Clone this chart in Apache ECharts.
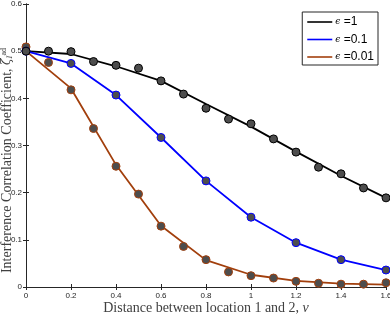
<!DOCTYPE html>
<html><head><meta charset="utf-8">
<script src="https://cdn.jsdelivr.net/npm/echarts@6/dist/echarts.min.js"></script>
<style>html,body{margin:0;padding:0;background:#fff}#c{width:390px;height:316px}</style>
</head><body><div id="c"></div>
<script>
// Data
const xLine = [0, 0.2, 0.4, 0.6, 0.8, 1.0, 1.2, 1.4, 1.6];
const xPts = [0, 0.1, 0.2, 0.3, 0.4, 0.5, 0.6, 0.7, 0.8, 0.9, 1.0, 1.1, 1.2, 1.3, 1.4, 1.5, 1.6];
const legendNames = ['ϵ =1', 'ϵ =0.1', 'ϵ =0.01'];
// eps = 1
const line1 = [0.5, 0.494, 0.468, 0.437, 0.388, 0.340, 0.287, 0.236, 0.189];
const pts1 = [0.5, 0.5, 0.499, 0.478, 0.470, 0.464, 0.437, 0.409, 0.379, 0.356, 0.346, 0.314, 0.286, 0.254, 0.240, 0.210, 0.189];
// eps = 0.1
const line2 = [0.5, 0.474, 0.407, 0.317, 0.225, 0.148, 0.094, 0.058, 0.036];
const pts2 = [0.5, 0.474, 0.407, 0.317, 0.225, 0.148, 0.094, 0.058, 0.036];
// eps = 0.01
const line3 = [0.5, 0.421, 0.259, 0.130, 0.057, 0.026, 0.013, 0.007, 0.005];
const pts3 = [0.509, 0.476, 0.418, 0.336, 0.256, 0.197, 0.129, 0.086, 0.058, 0.032, 0.024, 0.019, 0.012, 0.008, 0.006, 0.006, 0.009];
const xTicks = ['0', '0.2', '0.4', '0.6', '0.8', '1', '1.2', '1.4', '1.6'];

const colors = ['#000000', '#0000ff', '#a23f0c'];
const axisColor = '#262626';

function zip(xs, ys) { return xs.map((x, i) => [x, ys[i]]); }

const chart = echarts.init(document.getElementById('c'), null, {renderer: 'canvas'});
const lineSets = [line1, line2, line3];
const ptSets = [[xPts, pts1], [xLine, pts2], [xPts, pts3]];
const series = [];
lineSets.forEach((ys, i) => {
  series.push({
    name: legendNames[i], type: 'line', data: zip(xLine, ys), showSymbol: false, symbol: 'none',
    lineStyle: {color: colors[i], width: 1.8}, itemStyle: {color: colors[i]}, z: 2, animation: false
  });
});
[2, 1, 0].forEach((i) => {
  series.push({
    name: 'pts' + i, type: 'scatter', data: zip(ptSets[i][0], ptSets[i][1]), symbol: 'circle', symbolSize: 8,
    itemStyle: {color: '#4d4d4d', borderColor: colors[i], borderWidth: 1, opacity: 1}, z: 3 + (2 - i), animation: false
  });
});

const baseX = {
  type: 'value', min: 0, max: 1.6, interval: 0.2,
  axisLine: {show: true, lineStyle: {color: axisColor, width: 1}},
  axisTick: {show: true, inside: true, length: 3, lineStyle: {color: axisColor}},
  splitLine: {show: false}
};
const baseY = {
  type: 'value', min: 0, max: 0.6, interval: 0.1,
  axisLine: {show: true, lineStyle: {color: axisColor, width: 1}},
  axisTick: {show: true, inside: true, length: 3, lineStyle: {color: axisColor}},
  splitLine: {show: false}
};

chart.setOption({
  animation: false,
  grid: {left: 26, right: 4, top: 4, bottom: 29, containLabel: false, outerBoundsMode: 'none'},
  legend: {
    data: legendNames, orient: 'vertical', right: 12, top: 12,
    itemWidth: 25, itemHeight: 12, itemGap: 5.5,
    icon: 'path://M0,5.2 L25,5.2 L25,6.8 L0,6.8 Z',
    backgroundColor: '#fff', borderColor: axisColor, borderWidth: 1,
    padding: [4, 4, 2, 5],
    textStyle: {fontFamily: 'Liberation Sans', fontSize: 12, lineHeight: 12, color: '#000', padding: [0, 0, 0, -2],
      rich: {e: {fontFamily: 'DejaVu Serif', fontStyle: 'italic', fontSize: 9, lineHeight: 12, color: '#000'}, t: {fontFamily: 'Liberation Sans', fontSize: 12, lineHeight: 12, color: '#000'}}},
    formatter: (n) => '{e|ϵ}{t|' + n.slice(1) + '}'
  },
  xAxis: [
    Object.assign({}, baseX, {
      position: 'bottom',
      axisLabel: {color: axisColor, fontSize: 8, fontFamily: 'Liberation Sans', margin: 5,
        formatter: (v) => xTicks[Math.round(v / 0.2)]},
      name: 'Distance between location 1 and 2, {i|v}', nameLocation: 'middle', nameGap: 14, nameMoveOverlap: false,
      nameTextStyle: {fontFamily: 'Liberation Serif', fontSize: 14, color: '#404040',
        rich: {i: {fontFamily: 'Liberation Serif', fontStyle: 'italic', fontSize: 14, color: '#404040'}}}
    }),
    Object.assign({}, baseX, {position: 'top', axisLabel: {show: false}})
  ],
  yAxis: [
    Object.assign({}, baseY, {
      position: 'left',
      axisLabel: {color: axisColor, fontSize: 8, fontFamily: 'Liberation Sans', margin: 4,
        formatter: (v) => (v === 0 ? '0' : v.toFixed(1))},
      name: 'Interference Correlation Coefficient, {z|ζ}{sub|I}{sup|ad}', nameLocation: 'middle', nameGap: 12, nameRotate: 90, nameMoveOverlap: false,
      nameTextStyle: {fontFamily: 'Liberation Serif', fontSize: 14, color: '#404040', padding: [0, 30, 0, 0],
        rich: {
          z: {fontFamily: 'DejaVu Serif', fontStyle: 'italic', fontSize: 12, color: '#404040'},
          sub: {fontFamily: 'DejaVu Serif', fontStyle: 'italic', fontSize: 7.5, color: '#404040', verticalAlign: 'bottom', lineHeight: 13},
          sup: {fontFamily: 'Liberation Serif', fontSize: 8, color: '#404040', verticalAlign: 'top', lineHeight: 13}
        }}
    }),
    Object.assign({}, baseY, {position: 'right', axisLabel: {show: false}})
  ],
  series: series
});
</script>
</body></html>
